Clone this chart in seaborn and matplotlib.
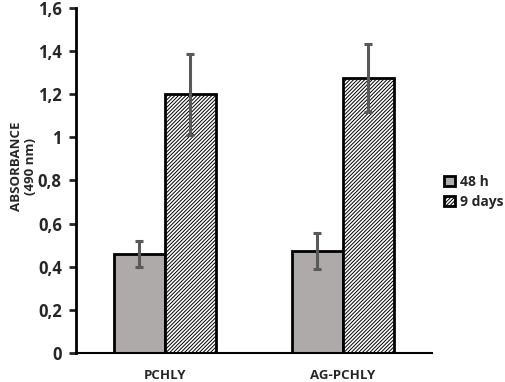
import numpy as np
import pandas as pd
import matplotlib
matplotlib.use("Agg")
import matplotlib.pyplot as plt
import seaborn as sns
from matplotlib.ticker import FuncFormatter

# Data
groups = ["PCHLY", "AG-PCHLY"]
times = ["48 h", "9 days"]
absorbance_48h = [0.46, 0.473]
absorbance_9d = [1.20, 1.274]
err_48h = [0.06, 0.083]
err_9d = [0.188, 0.158]

df = pd.DataFrame({
    "group": groups * 2,
    "time": [times[0]] * 2 + [times[1]] * 2,
    "absorbance": absorbance_48h + absorbance_9d,
})
errors = [err_48h, err_9d]

sns.set_style("white")
plt.rcParams["font.family"] = ["Open Sans", "DejaVu Sans"]
plt.rcParams["hatch.linewidth"] = 0.7

fig = plt.figure(figsize=(5.05, 3.82), dpi=100)
ax = fig.add_axes([0.150, 0.076, 0.705, 0.903])

sns.barplot(data=df, x="group", y="absorbance", hue="time",
            palette=["#aeaaa9", "white"], width=0.573, errorbar=None,
            edgecolor="black", linewidth=2, saturation=1, legend=False, ax=ax)

bar_sets = list(ax.containers)

# hatch the 9 days bars and add the error bars
for i, cont in enumerate(bar_sets):
    for j, bar in enumerate(cont.patches):
        if i == 1:
            bar.set_hatch("/////////")
        xc = bar.get_x() + bar.get_width() / 2
        ax.errorbar(xc, bar.get_height(), yerr=errors[i][j], color="#595959",
                    lw=2.2, capsize=3, capthick=2.2, zorder=5)

ax.set_xlim(-0.5, 1.5)
ax.set_ylim(0, 1.6)
ax.set_yticks(np.arange(0, 1.61, 0.2))
ax.yaxis.set_major_formatter(FuncFormatter(lambda v, p: f"{v:g}".replace(".", ",")))
ax.tick_params(axis="y", left=True, length=5, width=2, labelsize=12, pad=5)
ax.tick_params(axis="x", bottom=False, labelsize=9.5, pad=8)
for lab in ax.get_xticklabels() + ax.get_yticklabels():
    lab.set_fontweight("bold")

sns.despine(ax=ax)
ax.spines["left"].set_linewidth(2)
ax.spines["bottom"].set_linewidth(1.5)
ax.spines["left"].set_color("black")
ax.spines["bottom"].set_color("black")

ax.set_xlabel("")
ax.set_ylabel("ABSORBANCE\n(490 nm)", fontsize=9.5, fontweight="bold",
              linespacing=1.1)
ax.yaxis.set_label_coords(-0.11, 0.54)

handles = [c.patches[0] for c in bar_sets]
ax.legend(handles, times, loc="center left", bbox_to_anchor=(1.0, 0.467),
          frameon=False, handlelength=0.8, handleheight=0.8, handletextpad=0.3,
          labelspacing=0.45, prop={"weight": "bold", "size": 10})

fig.savefig("out.png", dpi=100)
